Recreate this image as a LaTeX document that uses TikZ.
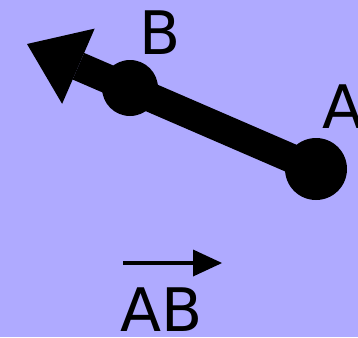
\documentclass[tikz,border=0pt]{standalone}
\usepackage{fontspec}
\setmainfont{DejaVu Sans}
\usetikzlibrary{arrows.meta}
\definecolor{bgc}{RGB}{175,170,255}
\begin{document}
\begin{tikzpicture}[x=1pt,y=-1pt,
  lab/.style={inner sep=0pt, font=\fontsize{60}{60}\selectfont, anchor=base},
  vec/.style={line width=29pt, -{Triangle[length=56pt,width=82pt,line width=0pt]}},
  smallvec/.style={line width=4pt, -{Triangle[length=29pt,width=27pt,line width=0pt]}}]
\useasboundingbox (0,0) rectangle (358,337);
\clip (0,0) rectangle (358,337);
\fill[bgc] (0,0) rectangle (358,337);
\coordinate (A) at (316,169);
\coordinate (B) at (130,88);
\coordinate (tip) at (27,44);
\draw[vec] (A) -- (tip);
\fill (A) circle[radius=31pt];
\fill (B) circle[radius=28pt];
\node[lab] (labB) at (160,55) {B};
\node[lab, anchor=base west] (labA) at (322,128) {A};
\coordinate (v1) at (123,263);
\coordinate (v2) at (222,263);
\draw[smallvec] (v1) -- (v2);
\node[lab] (labAB) at (162,331) {AB};
\end{tikzpicture}
\end{document}
